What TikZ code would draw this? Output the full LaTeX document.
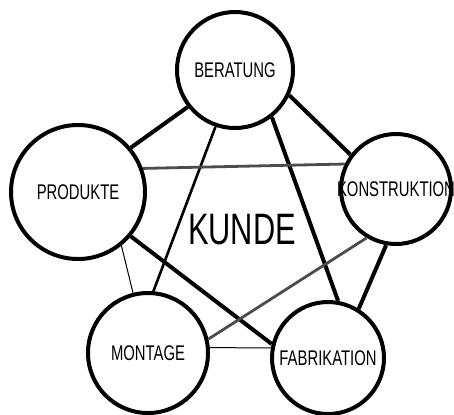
\documentclass[tikz,border=0pt]{standalone}
\usepackage{fontspec}
\newfontfamily\handfont[FakeStretch=0.7]{Liberation Sans}
\begin{document}
\begin{tikzpicture}[x=0.5pt,y=-0.5pt,
   bubble/.style={draw,circle,line width=2pt,inner sep=0pt},
   word/.style={font=\handfont\fontsize{10.6}{12}\selectfont,inner sep=0pt},
   strong/.style={line width=2pt},
   medium/.style={line width=1.3pt},
   faint/.style={line width=1.4pt,black!70},
   thin/.style={line width=0.5pt}]
\useasboundingbox (0,0) rectangle (454,414);
\node[bubble,minimum size=58pt] (ber) at (235,70) {};
\node[bubble,minimum size=67pt] (pro) at (78,192) {};
\node[bubble,minimum size=55pt] (kon) at (396,189) {};
\node[bubble,minimum size=60pt] (mon) at (148,353) {};
\node[bubble,minimum size=56pt] (fab) at (328,358) {};
\node[word] (ber-t) at (ber) {BERATUNG};
\node[word] (pro-t) at (pro) {PRODUKTE};
\node[word] (kon-t) at (kon) {KONSTRUKTION};
\node[word] (mon-t) at (mon) {MONTAGE};
\node[word] (fab-t) at (fab) {FABRIKATION};
\node[word,font=\handfont\fontsize{22}{26}\selectfont] (kunde) at (242,230) {KUNDE};
% connections
\draw[strong] (ber.218) -- (pro.40);
\draw[strong] (ber.-25) -- (kon.143);
\draw[medium] (ber.251) -- (mon.85);
\draw[strong] (ber.-52) -- (fab.80);
\draw[faint] (pro.20) -- (kon.154);
\draw[thin] (pro.-51) -- (mon.104);
\draw[strong] (pro.-40) -- (fab.166);
\draw[faint] (kon.239) -- (mon.13);
\draw[strong] (kon.-100) -- (fab.58);
\draw[thin] (mon.5) -- (fab.170);
\end{tikzpicture}
\end{document}
